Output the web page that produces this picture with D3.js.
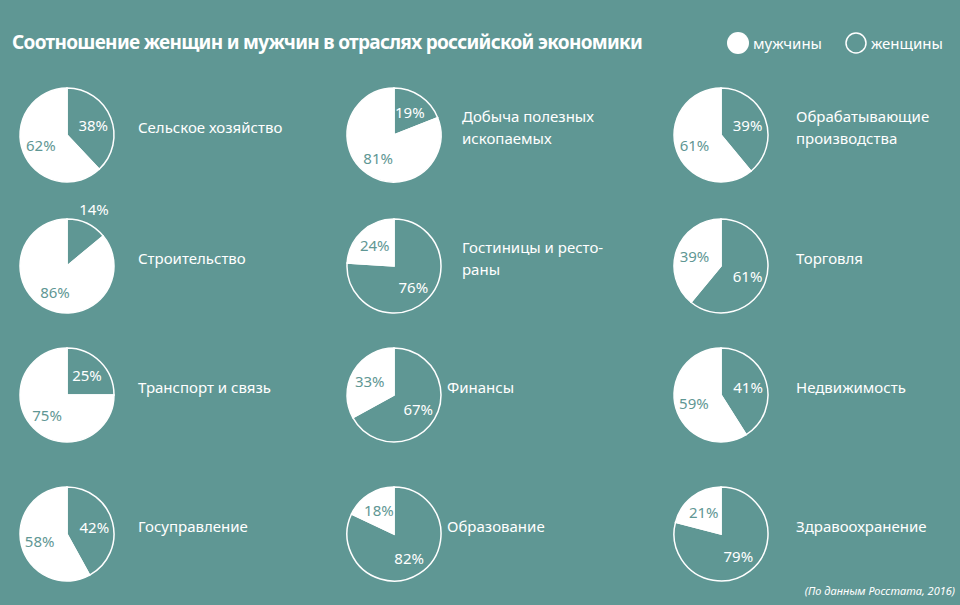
<!DOCTYPE html><html><head><meta charset="utf-8">
<script src="https://cdn.jsdelivr.net/npm/d3@7"></script>
<style>body{margin:0;background:#5f9794}text{font-family:"Noto Sans",sans-serif}</style></head><body>
<svg id="c" width="960" height="605"></svg>
<script>
const categories=["Сельское хозяйство","Добыча полезных|ископаемых","Обрабатывающие|производства","Строительство","Гостиницы и ресто-|раны","Торговля","Транспорт и связь","Финансы","Недвижимость","Госуправление","Образование","Здравоохранение"];
const women=[38,19,39,14,76,61,25,67,41,42,82,79];
const men=[62,81,61,86,24,39,75,33,59,58,18,21];
const bg="#5f9794";
const svg=d3.select("#c");
svg.append("rect").attr("width",960).attr("height",605).attr("fill",bg);
svg.append("text").attr("x",12).attr("y",49).attr("fill","#fff").attr("font-size",19).attr("font-weight","bold").attr("letter-spacing",-0.7).text("Соотношение женщин и мужчин в отраслях российской экономики");
svg.append("circle").attr("cx",738).attr("cy",43).attr("r",11).attr("fill","#fff");
svg.append("text").attr("x",753).attr("y",49).attr("fill","#fff").attr("font-size",15).text("мужчины");
svg.append("circle").attr("cx",856).attr("cy",43).attr("r",10).attr("fill","none").attr("stroke","#fff").attr("stroke-width",1.5);
svg.append("text").attr("x",871).attr("y",49).attr("fill","#fff").attr("font-size",15).text("женщины");
svg.append("text").attr("x",955).attr("y",595).attr("text-anchor","end").attr("fill","#fff").attr("font-size",11).attr("font-style","italic").text("(По данным Росстата, 2016)");
const colX=d3.scaleOrdinal().domain([0,1,2]).range([67,394,721]);
const rowY=d3.scaleOrdinal().domain([0,1,2,3]).range([135,266,395,534]);
const labX=[138,462,796];
const r=47;
const pie=d3.pie().sort(null).value(d=>d.v);
const arc=d3.arc().innerRadius(0).outerRadius(r);
const lab=d3.arc().innerRadius(r*0.6).outerRadius(r*0.6);
const labOut=d3.arc().innerRadius(r*1.35).outerRadius(r*1.35);
categories.forEach((name,i)=>{
  const c=i%3,row=Math.floor(i/3);
  const g=svg.append("g").attr("transform",`translate(${colX(c)},${rowY(row)})`);
  const data=pie([{k:"w",v:women[i]},{k:"m",v:men[i]}]);
  g.selectAll("path").data(data).join("path").attr("d",arc)
   .attr("fill",d=>d.data.k==="m"?"#fff":bg).attr("stroke","#fff").attr("stroke-width",1.5);
  g.selectAll("text").data(data).join("text").attr("transform",d=>{const out=d.data.v<15;const p=(out?labOut:lab).centroid(d);return `translate(${p[0]},${p[1]+6})`;})
   .attr("text-anchor","middle").attr("font-size",15).attr("fill",d=>d.data.k==="m"&&d.data.v>=15?bg:"#fff").text(d=>d.data.v+"%");
  const lines=name.split("|");
  const lx=labX[c]-(row>=2&&c==1?15:0);
  const t=svg.append("text").attr("fill","#fff").attr("font-size",15);
  lines.forEach((l,j)=>t.append("tspan").attr("x",lx).attr("y",rowY(row)-(lines.length-1)*11+j*22-2).text(l));
});
</script></body></html>
